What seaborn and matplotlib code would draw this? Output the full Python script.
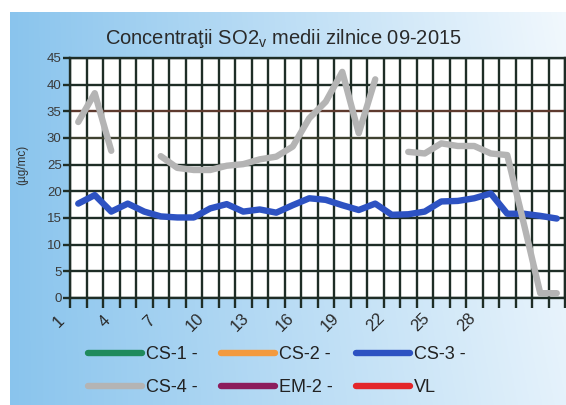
import numpy as np
import pandas as pd
import matplotlib
matplotlib.use("Agg")
import matplotlib.pyplot as plt
import matplotlib.transforms as mtransforms
from matplotlib.lines import Line2D
import seaborn as sns

# ---------------- data ----------------
days = list(range(1, 31))
xtick_days = [1, 4, 7, 10, 13, 16, 19, 22, 25, 28]
cs1 = []
cs2 = []
cs3 = [17.7, 19.3, 16.2, 17.7, 16.2, 15.3, 15.1, 15.1, 16.8, 17.6,
       16.2, 16.6, 16.0, 17.4, 18.7, 18.4, 17.4, 16.5, 17.7, 15.6,
       15.7, 16.2, 18.1, 18.2, 18.7, 19.6, 15.8, 15.8, 15.4, 14.9]
cs4 = [33.0, 38.4, 27.6, np.nan, np.nan, 26.6, 24.4, 24.0, 24.0, 24.8,
       25.1, 26.0, 26.5, 28.4, 33.7, 36.8, 42.4, 30.9, 41.0, np.nan,
       27.4, 27.1, 29.0, 28.5, 28.5, 27.1, 26.8, 14.0, 0.9, 0.9]
em2 = []
vl = []
series_names = ["CS-1 -", "CS-2 -", "CS-3 -", "CS-4 -", "EM-2 -", "VL"]
series_values = [cs1, cs2, cs3, cs4, em2, vl]
series_colors = ["#1f8a5c", "#f39a3e", "#2d52c2", "#b4b4b4", "#8c1c5c", "#e3262a"]
title = "Concentra\u0163ii SO2$_{\\mathrm{v}}$ medii zilnice 09-2015"
ylabel = "(\u00b5g/mc)"

# ---------------- style ----------------
sns.set_style("white")
plt.rcParams["font.family"] = ["Liberation Sans", "DejaVu Sans"]
plt.rcParams["mathtext.fontset"] = "custom"
plt.rcParams["mathtext.rm"] = "Liberation Sans"

W, H = 566, 405
fig = plt.figure(figsize=(W / 100, H / 100), dpi=100)
fig.patch.set_facecolor("white")

# background gradient
bg = fig.add_axes([10 / W, 0, (W - 10) / W, 1 - 12 / H], zorder=-5)
gx = np.linspace(0, 1, 300)
gy = np.linspace(0, 1, 200)[:, None]
t = np.clip(0.85 * gx[None, :] + 0.12 * (1 - gy) * gx[None, :], 0, 1)
c0 = np.array([0.54, 0.77, 0.93])
c1 = np.array([0.96, 0.98, 0.995])
img = c0[None, None, :] * (1 - t[..., None]) + c1[None, None, :] * t[..., None]
bg.imshow(img, aspect="auto", extent=[0, 1, 0, 1], origin="upper")
bg.axis("off")

grid_c = "#1e2d26"
ax = fig.add_axes([70 / W, 1 - 298 / H, 495 / W, 240 / H])
ax.set_facecolor("white")

# draw series, splitting at missing values
for name, vals, col in zip(series_names, series_values, series_colors):
    if len(vals) == 0:
        continue
    df = pd.DataFrame({"day": days[:len(vals)], "value": vals})
    df["seg"] = df["value"].isna().cumsum()
    df = df.dropna()
    for _, sub in df.groupby("seg"):
        sns.lineplot(data=sub, x="day", y="value", color=col, lw=4.6, ax=ax,
                     solid_capstyle="round", solid_joinstyle="round", zorder=3)

ax.set_xlim(0.5, 30.5)
ax.set_ylim(0, 45)
ax.set_yticks(range(0, 50, 5))
ax.set_xticks(np.arange(0.5, 31, 1))
ax.set_xlabel("")
ax.set_ylabel("")
ax.grid(True, color=grid_c, lw=1.7, zorder=1)
ax.set_axisbelow(True)
ygl = ax.get_ygridlines()
ygl[7].set_color("#5e3a2e")
ygl[6].set_color("#3f4230")
ax.tick_params(axis="x", direction="out", length=7, width=1.7, color=grid_c,
               labelbottom=False, bottom=True)
ax.tick_params(axis="y", direction="out", length=5, width=1.7, color=grid_c,
               labelsize=9.5, labelcolor="#3a3a3a", pad=1, left=True)
for s in ax.spines.values():
    s.set_color(grid_c)
    s.set_linewidth(1.7)

# rotated day labels
for d in xtick_days:
    tr = mtransforms.offset_copy(ax.transData, fig=fig, x=-(19 + (d - 1) * 1.43),
                                 y=-24, units="dots")
    ax.text(d, 0, str(d), transform=tr, rotation=45, ha="center", va="center",
            fontsize=12, color="#2a2a2a", clip_on=False)

fig.text(22 / W, 1 - 165 / H, ylabel, rotation=90, fontsize=8.5, ha="center",
         va="center", color="#333333")
fig.text(283 / W, 1 - 38 / H, title, fontsize=14.5, ha="center", va="center",
         color="#2a2a2a")

# legend (row-wise order)
order = [0, 3, 1, 4, 2, 5]
handles = [Line2D([], [], color=series_colors[i], lw=4.6, solid_capstyle="round")
           for i in order]
labels = [series_names[i] for i in order]
fig.legend(handles, labels, ncol=3, loc="upper left",
           bbox_to_anchor=(88 / W, 1 - 346 / H), frameon=False,
           handlelength=3.0, handletextpad=0.2, columnspacing=1.3,
           labelspacing=0.9, borderpad=0, borderaxespad=0, fontsize=13,
           labelcolor="#222222")

fig.savefig("out.png", dpi=100)
